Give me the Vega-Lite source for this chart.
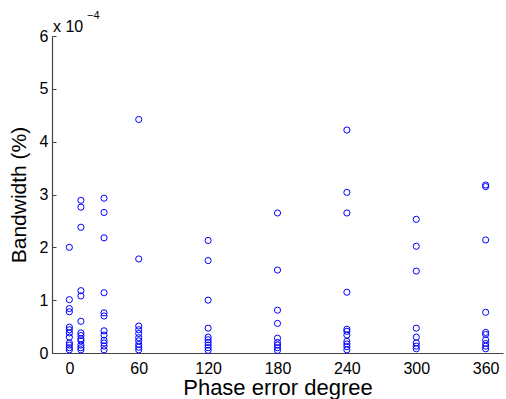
{
  "$schema": "https://vega.github.io/schema/vega-lite/v6.json",
  "width": 451,
  "height": 317,
  "autosize": "none",
  "padding": {"left": 52, "top": 36, "right": 3, "bottom": 46},
  "background": "white",
  "config": {
    "view": {"stroke": null},
    "font": "Liberation Sans",
    "axis": {"grid": false, "domainColor": "#444", "tickColor": "#444", "labelColor": "black", "titleColor": "black", "labelFont": "Liberation Sans", "titleFont": "Liberation Sans", "titleFontWeight": "normal"}
  },
  "data": {"values": [
    {"phase": 0, "bw": 2.0}, {"phase": 0, "bw": 1.01}, {"phase": 0, "bw": 0.84}, {"phase": 0, "bw": 0.78}, {"phase": 0, "bw": 0.49}, {"phase": 0, "bw": 0.44}, {"phase": 0, "bw": 0.38}, {"phase": 0, "bw": 0.30}, {"phase": 0, "bw": 0.19}, {"phase": 0, "bw": 0.15}, {"phase": 0, "bw": 0.10}, {"phase": 0, "bw": 0.06},
    {"phase": 10, "bw": 2.89}, {"phase": 10, "bw": 2.76}, {"phase": 10, "bw": 2.38}, {"phase": 10, "bw": 1.18}, {"phase": 10, "bw": 1.08}, {"phase": 10, "bw": 0.60}, {"phase": 10, "bw": 0.38}, {"phase": 10, "bw": 0.33}, {"phase": 10, "bw": 0.27}, {"phase": 10, "bw": 0.23}, {"phase": 10, "bw": 0.15}, {"phase": 10, "bw": 0.10}, {"phase": 10, "bw": 0.06},
    {"phase": 30, "bw": 2.93}, {"phase": 30, "bw": 2.66}, {"phase": 30, "bw": 2.18}, {"phase": 30, "bw": 1.14}, {"phase": 30, "bw": 0.76}, {"phase": 30, "bw": 0.70}, {"phase": 30, "bw": 0.42}, {"phase": 30, "bw": 0.34}, {"phase": 30, "bw": 0.24}, {"phase": 30, "bw": 0.19}, {"phase": 30, "bw": 0.13}, {"phase": 30, "bw": 0.06},
    {"phase": 60, "bw": 4.42}, {"phase": 60, "bw": 1.78}, {"phase": 60, "bw": 0.51}, {"phase": 60, "bw": 0.44}, {"phase": 60, "bw": 0.37}, {"phase": 60, "bw": 0.29}, {"phase": 60, "bw": 0.23}, {"phase": 60, "bw": 0.16}, {"phase": 60, "bw": 0.11}, {"phase": 60, "bw": 0.06},
    {"phase": 120, "bw": 2.13}, {"phase": 120, "bw": 1.75}, {"phase": 120, "bw": 1.00}, {"phase": 120, "bw": 0.47}, {"phase": 120, "bw": 0.30}, {"phase": 120, "bw": 0.25}, {"phase": 120, "bw": 0.20}, {"phase": 120, "bw": 0.15}, {"phase": 120, "bw": 0.10}, {"phase": 120, "bw": 0.05},
    {"phase": 180, "bw": 2.65}, {"phase": 180, "bw": 1.57}, {"phase": 180, "bw": 0.81}, {"phase": 180, "bw": 0.56}, {"phase": 180, "bw": 0.28}, {"phase": 180, "bw": 0.20}, {"phase": 180, "bw": 0.15}, {"phase": 180, "bw": 0.10}, {"phase": 180, "bw": 0.05},
    {"phase": 240, "bw": 4.22}, {"phase": 240, "bw": 3.04}, {"phase": 240, "bw": 2.65}, {"phase": 240, "bw": 1.15}, {"phase": 240, "bw": 0.45}, {"phase": 240, "bw": 0.41}, {"phase": 240, "bw": 0.34}, {"phase": 240, "bw": 0.22}, {"phase": 240, "bw": 0.17}, {"phase": 240, "bw": 0.12}, {"phase": 240, "bw": 0.06},
    {"phase": 300, "bw": 2.53}, {"phase": 300, "bw": 2.02}, {"phase": 300, "bw": 1.55}, {"phase": 300, "bw": 0.47}, {"phase": 300, "bw": 0.30}, {"phase": 300, "bw": 0.19}, {"phase": 300, "bw": 0.13}, {"phase": 300, "bw": 0.08},
    {"phase": 360, "bw": 3.18}, {"phase": 360, "bw": 3.15}, {"phase": 360, "bw": 2.14}, {"phase": 360, "bw": 0.77}, {"phase": 360, "bw": 0.39}, {"phase": 360, "bw": 0.35}, {"phase": 360, "bw": 0.25}, {"phase": 360, "bw": 0.18}, {"phase": 360, "bw": 0.13}, {"phase": 360, "bw": 0.08}
  ]},
  "layer": [
    {
      "mark": {"type": "point", "shape": "circle", "filled": false, "size": 38, "strokeWidth": 1, "color": "#0000ff", "opacity": 1},
      "encoding": {
        "x": {"field": "phase", "type": "quantitative", "scale": {"domain": [-15, 375], "nice": false, "zero": false},
          "axis": {"values": [0, 60, 120, 180, 240, 300, 360], "title": "Phase error degree", "titleFontSize": 22, "labelFontSize": 16, "tickSize": 0, "labelBaseline": "alphabetic", "labelPadding": 20, "titleBaseline": "alphabetic", "titleY": 41, "domainWidth": 1.2}},
        "y": {"field": "bw", "type": "quantitative", "scale": {"domain": [0, 6], "nice": false},
          "axis": {"values": [0, 1, 2, 3, 4, 5, 6], "title": "Bandwidth (%)", "titleFontSize": 21, "labelFontSize": 16, "tickSize": -4, "labelPadding": 8, "titlePadding": 10, "domainWidth": 1.2}}
      }
    },
    {
      "data": {"values": [{"t": "x 10"}]},
      "mark": {"type": "text", "align": "left", "baseline": "alphabetic", "fontSize": 16, "dx": 1, "dy": -4, "font": "Liberation Sans"},
      "encoding": {"x": {"datum": -15}, "y": {"datum": 6}, "text": {"field": "t"}}
    },
    {
      "data": {"values": [{"t": "−4"}]},
      "mark": {"type": "text", "align": "left", "baseline": "alphabetic", "fontSize": 11, "dx": 35, "dy": -17, "font": "Liberation Sans"},
      "encoding": {"x": {"datum": -15}, "y": {"datum": 6}, "text": {"field": "t"}}
    }
  ]
}
